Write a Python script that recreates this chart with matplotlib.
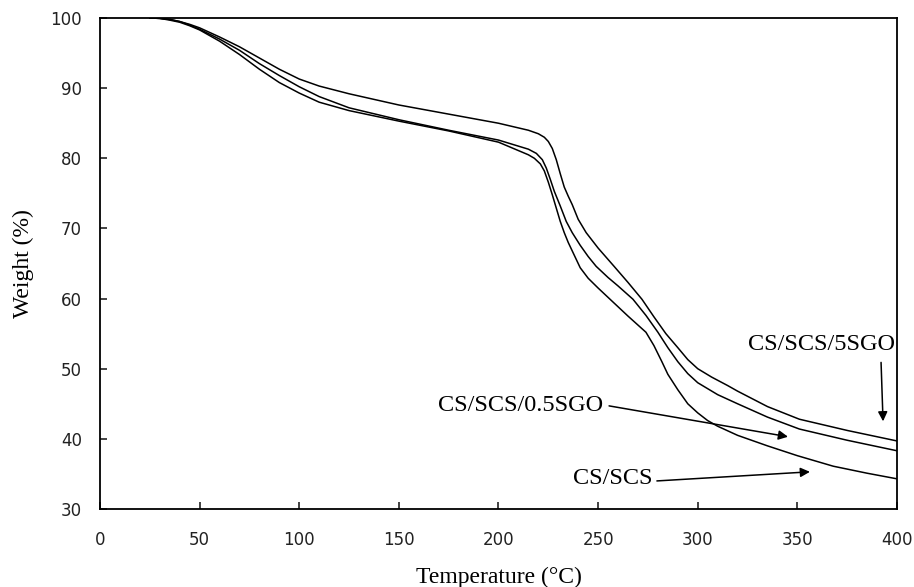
import numpy as np
import matplotlib
matplotlib.use("Agg")
import matplotlib.pyplot as plt

# ── Données (TGA) ────────────────────────────────────────────
t_5sgo = [25, 30, 35, 40, 45, 50, 60, 70, 80, 90, 100, 110, 125, 150, 175,
          200, 215, 220, 223, 225, 227, 229, 231, 233, 235, 237, 240, 244,
          250, 258, 265, 272, 278, 284, 290, 295, 300, 307, 315, 320, 335,
          351, 375, 400]
w_5sgo = [100, 99.95, 99.8, 99.5, 99.1, 98.6, 97.3, 95.9, 94.3, 92.7, 91.3,
          90.3, 89.2, 87.6, 86.3, 85.0, 84.0, 83.5, 83.0, 82.4, 81.4, 79.8,
          77.8, 75.9, 74.6, 73.4, 71.3, 69.4, 67.2, 64.6, 62.3, 59.9, 57.4,
          55.0, 53.0, 51.3, 50.0, 48.8, 47.6, 46.8, 44.6, 42.8, 41.2, 39.7]

t_05sgo = [25, 30, 35, 40, 45, 50, 60, 70, 80, 90, 100, 110, 125, 150, 175,
           200, 215, 219, 222, 224, 226, 228, 231, 234, 237, 241, 245, 249,
           255, 260, 267.5, 274, 280, 285, 290, 295, 300, 310, 320, 335,
           351, 375, 400]
w_05sgo = [100, 99.95, 99.8, 99.5, 99.0, 98.4, 97.0, 95.4, 93.5, 91.8, 90.2,
           88.8, 87.2, 85.5, 84.0, 82.6, 81.3, 80.7, 79.8, 78.6, 77.0, 75.3,
           73.2, 71.0, 69.4, 67.6, 66.0, 64.6, 63.0, 61.8, 59.9, 57.6, 55.2,
           53.0, 51.0, 49.3, 48.0, 46.3, 45.0, 43.1, 41.4, 39.8, 38.3]

t_cs = [25, 30, 35, 40, 45, 50, 60, 70, 80, 90, 100, 110, 125, 150, 175,
        200, 215, 218, 221, 223, 225, 227, 229, 231, 233, 235, 238, 241,
        245, 250, 256, 265, 274, 278, 282, 285, 290, 295, 300, 305, 310,
        320, 335, 350, 368, 385, 400]
w_cs = [100, 99.95, 99.7, 99.4, 98.9, 98.3, 96.7, 94.8, 92.7, 90.8, 89.3,
        88.0, 86.8, 85.3, 83.9, 82.3, 80.5, 80.0, 79.2, 78.2, 76.6, 74.8,
        72.9, 71.0, 69.4, 68.0, 66.2, 64.4, 62.9, 61.5, 59.9, 57.5, 55.2,
        53.3, 51.0, 49.2, 47.0, 45.0, 43.7, 42.6, 41.8, 40.5, 39.0, 37.6,
        36.1, 35.1, 34.3]

x_ticks = [0, 50, 100, 150, 200, 250, 300, 350, 400]
y_ticks = [30, 40, 50, 60, 70, 80, 90, 100]

# (texte, position du texte, pointe de la flèche, départ de la flèche)
labels = [
    ("CS/SCS/5SGO",   (325.0, 53.5), (393.0, 42.5), (392.0, 50.9)),
    ("CS/SCS/0.5SGO", (169.6, 44.8), (345.3, 40.3), (255.5, 44.7)),
    ("CS/SCS",        (237.4, 34.3), (356.3, 35.3), (279.5, 34.0)),
]

serif = ["Liberation Serif", "DejaVu Serif"]

fig = plt.figure(figsize=(9.14, 5.87), dpi=100)
ax = fig.add_axes([0.1094, 0.1329, 0.8720, 0.8364])

for t, w in [(t_5sgo, w_5sgo), (t_05sgo, w_05sgo), (t_cs, w_cs)]:
    ax.plot(t, w, color="black", lw=1.1, solid_joinstyle="round")

ax.set_xlim(0, 400)
ax.set_ylim(30, 100)
ax.set_xticks(x_ticks)
ax.set_yticks(y_ticks)
ax.tick_params(direction="in", length=5, width=1.2, labelsize=12,
               colors="#222222")
ax.tick_params(axis="x", pad=16)
ax.tick_params(axis="y", pad=13)
for s in ax.spines.values():
    s.set_linewidth(1.3)
    s.set_color("black")

ax.set_xlabel("Temperature (°C)", family=serif, fontsize=17)
ax.set_ylabel("Weight (%)", family=serif, fontsize=17)
ax.xaxis.set_label_coords(0.5, -0.1385)
ax.yaxis.set_label_coords(-0.0966, 0.5)
ax.xaxis.label.set_va("center")
ax.yaxis.label.set_va("center")

for txt, pos, tip, start in labels:
    ax.text(pos[0], pos[1], txt, family=serif, fontsize=17.5,
            ha="left", va="center")
    ax.annotate("", xy=tip, xytext=start,
                arrowprops=dict(arrowstyle="-|>", color="black", lw=1.1,
                                mutation_scale=14, shrinkA=0, shrinkB=0))

plt.savefig("out.png", dpi=100)
plt.close()
